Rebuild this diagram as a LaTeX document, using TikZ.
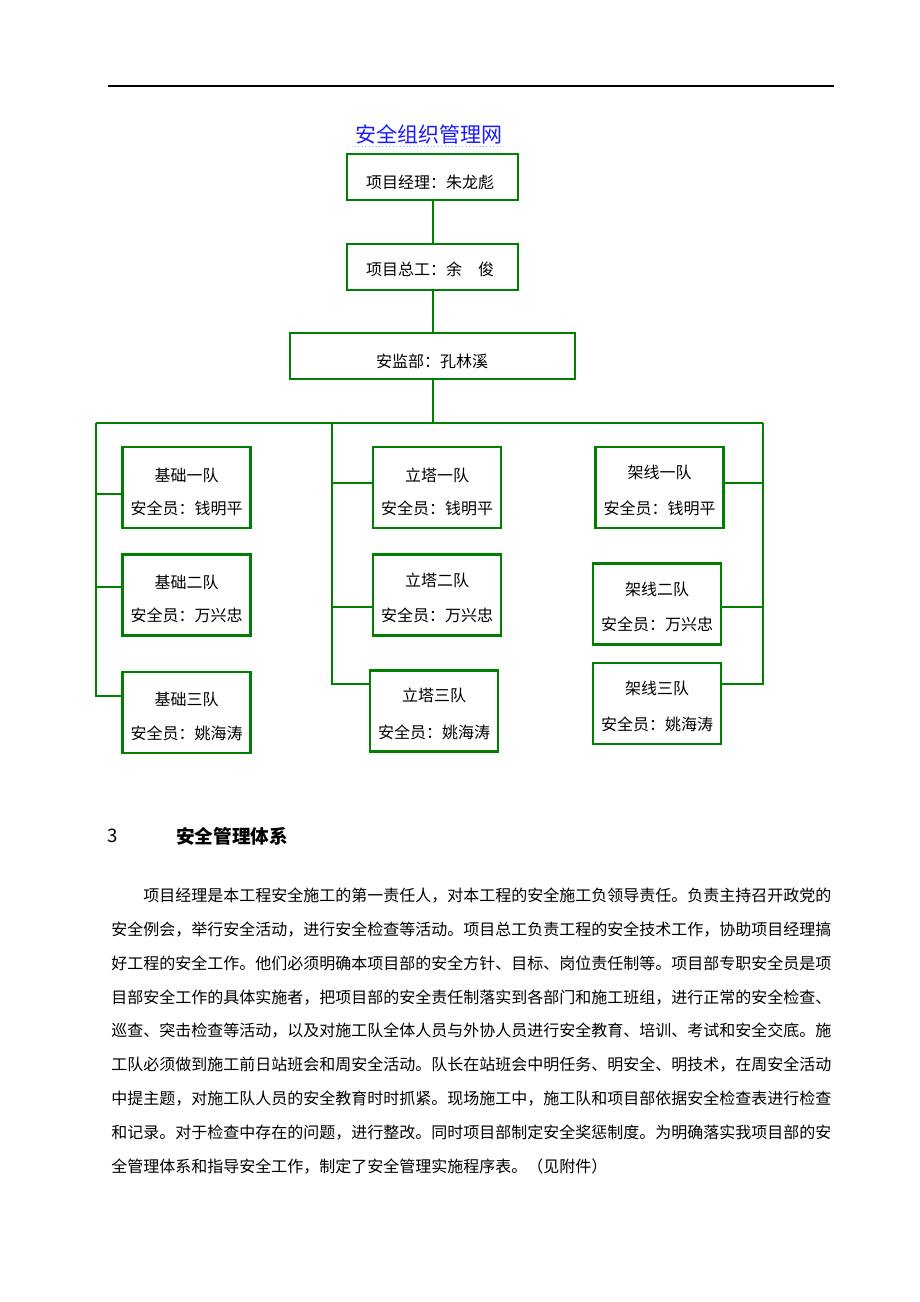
\documentclass[tikz,border=0pt]{standalone}
\usepackage{fontspec}
\setmainfont{Noto Sans CJK SC}
\usetikzlibrary{calc}
\definecolor{lg}{RGB}{0,128,0}
\definecolor{ttl}{RGB}{26,26,255}
\begin{document}
\begin{tikzpicture}[x=0.75pt,y=-0.75pt,
  box/.style={draw=lg,line width=1.9pt,inner sep=0pt,fill=white},
  topbox/.style={box,minimum width=128.25pt,minimum height=34.5pt},
  widebox/.style={box,minimum width=213.75pt,minimum height=34.5pt},
  teambox/.style={box,minimum width=96pt,minimum height=61pt},
  conn/.style={draw=lg,line width=1.5pt},
  txt/.style={inner sep=0pt,font=\fontsize{12}{14}\selectfont},
  body/.style={inner sep=0pt,anchor=west,font=\fontsize{12}{14}\selectfont}]
\useasboundingbox (0,0) rectangle (920,1302);
% header rule
\coordinate (hl) at (108,86);
\coordinate (hr) at (834,86);
\draw[line width=1.1pt] (hl) -- (hr);
% title
\node[inner sep=0pt,text=ttl,font=\fontsize{15.75}{18}\selectfont] (title) at (428.5,134) {安全组织管理网};
\draw[ttl!40,dotted,line width=0.6pt] (title.south west) ++(0,2) coordinate (ul1) -- (ul1 -| title.south east);
% top chain
\node[topbox] (b1) at (432.5,177) {};
\node[txt] (t1) at (430,182.5) {项目经理：朱龙彪};
\node[topbox] (b2) at (432.5,267) {};
\node[txt] (t2) at (430,269) {项目总工：余\hspace{1em}俊};
\node[widebox] (b3) at (432.5,356) {};
\node[txt] (t3) at (432,361) {安监部：孔林溪};
% bus
\coordinate (busL) at (96,423);
\coordinate (busC) at (432.5,423);
\coordinate (busM) at (332,423);
\coordinate (busR) at (763,423);
\draw[conn] (b1.south) -- (b2.north);
\draw[conn] (b2.south) -- (b3.north);
\draw[conn] (b3.south) -- (busC);
\draw[conn] (busL) -- (busR);
% team boxes
\node[teambox] (a1) at (186.5,487.5) {};
\node[teambox] (a2) at (186.5,595) {};
\node[teambox] (a3) at (186.5,712.5) {};
\node[teambox] (c1) at (437,487.5) {};
\node[teambox] (c2) at (437,595) {};
\node[teambox] (c3) at (434,711) {};
\node[teambox] (d1) at (659.5,487.5) {};
\node[teambox] (d2) at (657,604) {};
\node[teambox] (d3) at (657,703.5) {};
% team texts
\node[txt] (a1n) at (186.5,475) {基础一队};
\node[txt] (a1s) at (186.5,508) {安全员：钱明平};
\node[txt] (a2n) at (186.5,582) {基础二队};
\node[txt] (a2s) at (186.5,615) {安全员：万兴忠};
\node[txt] (a3n) at (186.5,699) {基础三队};
\node[txt] (a3s) at (186.5,733) {安全员：姚海涛};
\node[txt] (c1n) at (437,475) {立塔一队};
\node[txt] (c1s) at (437,508) {安全员：钱明平};
\node[txt] (c2n) at (437,580) {立塔二队};
\node[txt] (c2s) at (437,615) {安全员：万兴忠};
\node[txt] (c3n) at (434,695) {立塔三队};
\node[txt] (c3s) at (434,732) {安全员：姚海涛};
\node[txt] (d1n) at (659.5,472) {架线一队};
\node[txt] (d1s) at (659.5,508) {安全员：钱明平};
\node[txt] (d2n) at (657,589) {架线二队};
\node[txt] (d2s) at (657,624) {安全员：万兴忠};
\node[txt] (d3n) at (657,688) {架线三队};
\node[txt] (d3s) at (657,724) {安全员：姚海涛};
% left branch
\coordinate (lbot) at (96,696);
\draw[conn] (busL) -- (lbot) -- (lbot -| a3.west);
\draw[conn] (busL |- 0,494) -- (a1.west |- 0,494);
\draw[conn] (busL |- 0,587) -- (a2.west |- 0,587);
% middle branch
\coordinate (mbot) at (332,684);
\draw[conn] (busM) -- (mbot) -- (mbot -| c3.west);
\draw[conn] (busM |- 0,483) -- (c1.west |- 0,483);
\draw[conn] (busM |- 0,607) -- (c2.west |- 0,607);
% right branch
\coordinate (rbot) at (763,684);
\draw[conn] (busR) -- (rbot) -- (rbot -| d3.east);
\draw[conn] (busR |- 0,483) -- (d1.east |- 0,483);
\draw[conn] (busR |- 0,607) -- (d2.east |- 0,607);
% section heading
\node[inner sep=0pt,anchor=west,font=\fontsize{14}{16}\selectfont] (secnum) at (107,836) {3};
\node[inner sep=0pt,anchor=west,font=\bfseries\fontsize{14}{16}\selectfont] (sechead) at (176,836) {安全管理体系};
% body paragraph
\node[body] (p1) at (143,896) {项目经理是本工程安全施工的第一责任人，对本工程的安全施工负领导责任。负责主持召开政党的};
\node[body] (p2) at (111,929.75) {安全例会，举行安全活动，进行安全检查等活动。项目总工负责工程的安全技术工作，协助项目经理搞};
\node[body] (p3) at (111,963.5) {好工程的安全工作。他们必须明确本项目部的安全方针、目标、岗位责任制等。项目部专职安全员是项};
\node[body] (p4) at (111,997.25) {目部安全工作的具体实施者，把项目部的安全责任制落实到各部门和施工班组，进行正常的安全检查、};
\node[body] (p5) at (111,1031) {巡查、突击检查等活动，以及对施工队全体人员与外协人员进行安全教育、培训、考试和安全交底。施};
\node[body] (p6) at (111,1064.75) {工队必须做到施工前日站班会和周安全活动。队长在站班会中明任务、明安全、明技术，在周安全活动};
\node[body] (p7) at (111,1098.5) {中提主题，对施工队人员的安全教育时时抓紧。现场施工中，施工队和项目部依据安全检查表进行检查};
\node[body] (p8) at (111,1132.25) {和记录。对于检查中存在的问题，进行整改。同时项目部制定安全奖惩制度。为明确落实我项目部的安};
\node[body] (p9) at (111,1166) {全管理体系和指导安全工作，制定了安全管理实施程序表。（见附件）};
\end{tikzpicture}
\end{document}
